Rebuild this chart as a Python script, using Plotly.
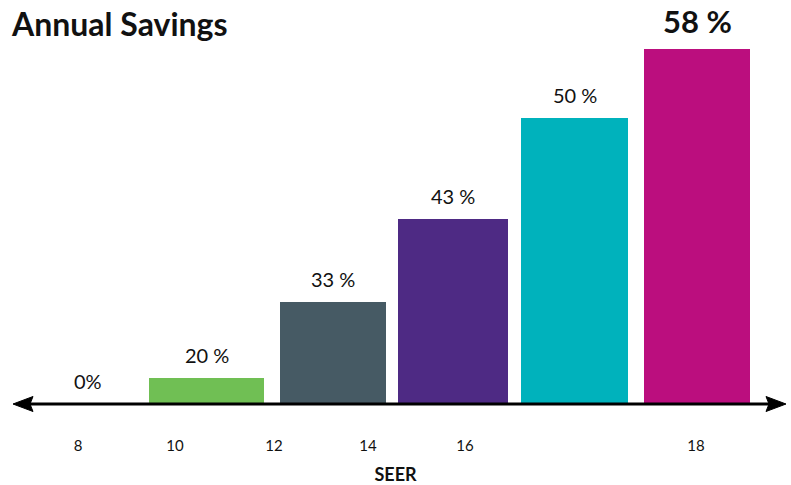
import plotly.graph_objects as go

# ---- data ----
seer_ticks = ["8", "10", "12", "14", "16", "18"]
seer_tick_pos = [78, 175, 274, 368, 465, 696]
bar_labels = ["0%", "20 %", "33 %", "43 %", "50 %", "58 %"]
bar_pos = [88, 206.5, 333, 453, 574.5, 697]
bar_heights = [0, 26, 102, 185, 286, 355]
bar_widths = [100, 115, 106, 110, 107, 106]
bar_colors = ["#FFFFFF", "#70BF54", "#465A64", "#4E2A84", "#00B2BC", "#BB0E7E"]

FONT = "Lato"
W, H = 791, 485
AXIS_Y = 404  # axis line position in the window
BELOW = 16    # room below the axis line inside the plot area

fig = go.Figure()
fig.add_trace(go.Bar(
    x=bar_pos, y=bar_heights, width=bar_widths,
    marker=dict(color=bar_colors, line=dict(width=0)),
    hoverinfo="skip", showlegend=False,
))

# value labels
for i, (xp, h, lab) in enumerate(zip(bar_pos, bar_heights, bar_labels)):
    last = i == len(bar_labels) - 1
    fig.add_annotation(
        x=xp, y=h, text=f"<b>{lab}</b>" if last else lab,
        showarrow=False, xanchor="center", yanchor="bottom",
        yshift=7 if last else 9,
        font=dict(family=FONT, size=31 if last else 20, color="#111111"),
    )

# axis line with arrows
fig.add_shape(type="line", xref="x", yref="y", x0=25, x1=770, y0=0, y1=0,
              line=dict(color="black", width=3), layer="above")
for tip, d in [(13, 1), (786, -1)]:
    fig.add_shape(type="path", xref="x", yref="y",
                  xsizemode="pixel", ysizemode="pixel", xanchor=tip, yanchor=0,
                  path=f"M 0 0 L {20*d} 7.5 L {17*d} 0 L {20*d} -7.5 Z",
                  fillcolor="black", line=dict(color="black", width=1), layer="above")

fig.update_layout(
    width=W, height=H,
    margin=dict(l=0, r=0, t=0, b=H - AXIS_Y - BELOW),
    paper_bgcolor="white", plot_bgcolor="white",
    title=dict(text="<b>Annual Savings</b>", x=12 / W, xanchor="left",
               xref="container", yref="container", y=1 - 25 / H, yanchor="middle",
               font=dict(family=FONT, size=32, color="#111111")),
    xaxis=dict(range=[0, W], tickvals=seer_tick_pos, ticktext=seer_ticks,
               showgrid=False, zeroline=False, showline=False,
               ticks="outside", ticklen=28 - BELOW, tickcolor="rgba(0,0,0,0)",
               tickfont=dict(family=FONT, size=15, color="#111111"),
               title=dict(text="<b>SEER</b>", standoff=18,
                          font=dict(family=FONT, size=18, color="#111111"))),
    yaxis=dict(range=[-BELOW, AXIS_Y], visible=False),
    bargap=0,
)

fig.write_html("out.html", config={"displayModeBar": False},
               post_script="document.body.style.margin='0';document.body.style.overflow='hidden';")
